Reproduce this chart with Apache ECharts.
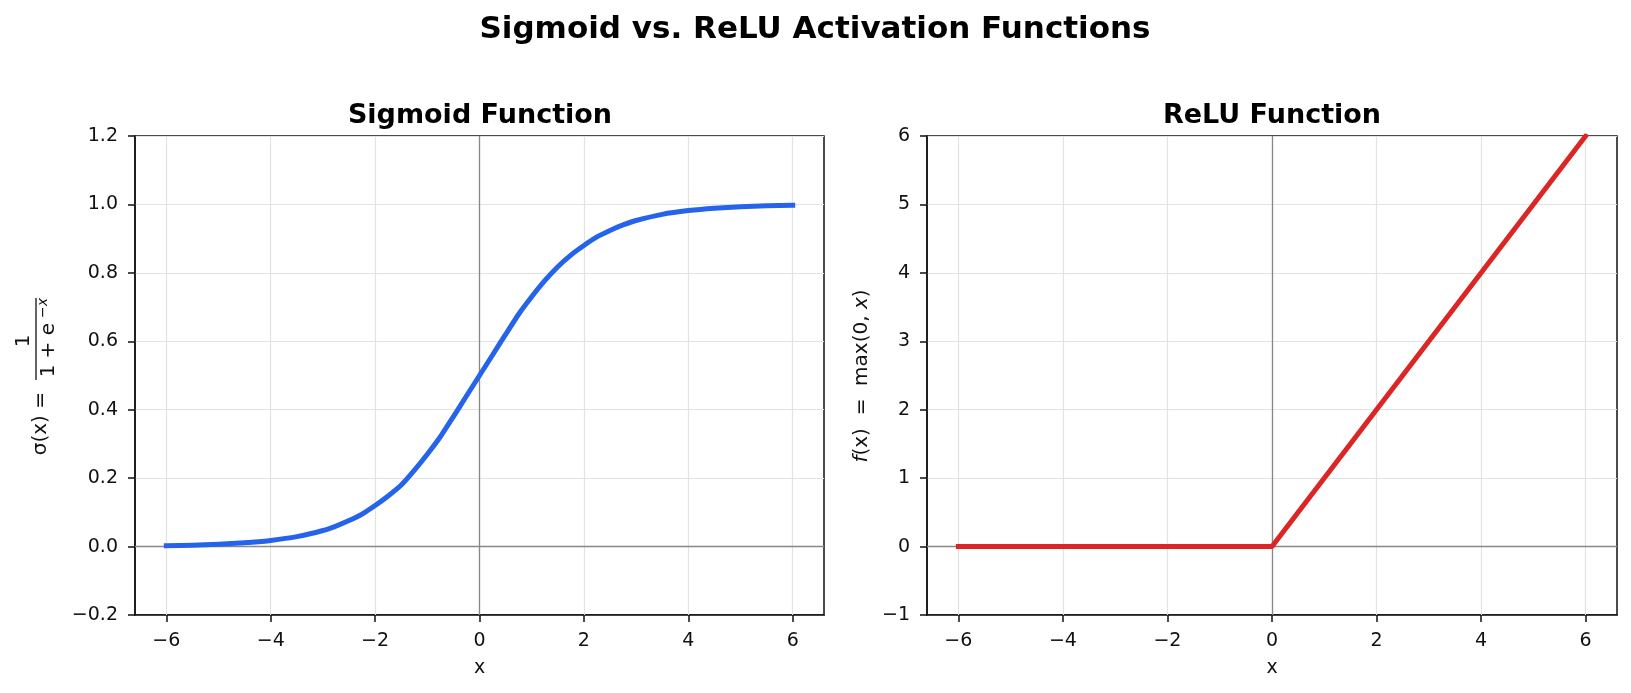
<!DOCTYPE html>
<html>
<head>
<meta charset="utf-8">
<title>Sigmoid vs. ReLU Activation Functions</title>
<script src="https://cdn.jsdelivr.net/npm/echarts@6/dist/echarts.min.js"></script>
<style>
html, body { margin: 0; padding: 0; background: #fff; }
#chart { width: 1631px; height: 693px; }
</style>
</head>
<body>
<div id="chart"></div>
<script>
// values
var xTicks = [-6, -4, -2, 0, 2, 4, 6];
var sigmoidX = [-6, -5.5, -5, -4.5, -4, -3.5, -3, -2.75, -2.5, -2.25, -2, -1.75, -1.5, -1.25, -1, -0.75, -0.5, -0.25,
	0, 0.25, 0.5, 0.75, 1, 1.25, 1.5, 1.75, 2, 2.25, 2.5, 2.75, 3, 3.5, 4, 4.5, 5, 5.5, 6];
var sigmoidY = [0.0025, 0.004, 0.007, 0.011, 0.018, 0.029, 0.047, 0.06, 0.076, 0.095, 0.12, 0.148, 0.18, 0.223, 0.27, 0.321, 0.38, 0.44,
	0.5, 0.56, 0.62, 0.679, 0.73, 0.777, 0.818, 0.852, 0.88, 0.905, 0.924, 0.94, 0.953, 0.971, 0.982, 0.989, 0.993, 0.996, 0.9975];
var reluX = [-6, 0, 6];
var reluY = [0, 0, 6];
var sigmoidYTicks = { min: -0.2, max: 1.2, step: 0.2 };
var reluYTicks = { min: -1, max: 6, step: 1 };

var FONT = 'DejaVu Sans';
var INK = '#111';

function minus(s) {
	return String(s).replace('-', '\u2212');
}

function pairs(xs, ys) {
	return xs.map(function (x, i) { return [x, ys[i]]; });
}

function xAxisOf(idx) {
	return {
		gridIndex: idx,
		type: 'value',
		min: -6.6,
		max: 6.6,
		axisLine: { onZero: false, lineStyle: { color: INK, width: 1.5 } },
		axisTick: { customValues: xTicks, length: 7, lineStyle: { color: INK, width: 1.5 } },
		axisLabel: {
			customValues: xTicks,
			margin: 17,
			fontSize: 19,
			fontFamily: FONT,
			color: INK,
			formatter: function (v) { return minus(v); }
		},
		splitLine: { show: false },
		name: 'x',
		nameLocation: 'middle',
		nameGap: 44,
		nameTextStyle: { fontSize: 19, fontFamily: FONT, color: INK }
	};
}

function yAxisOf(idx, t, digits) {
	return {
		gridIndex: idx,
		type: 'value',
		min: t.min,
		max: t.max,
		interval: t.step,
		axisLine: { show: true, onZero: false, lineStyle: { color: INK, width: 1.5 } },
		axisTick: { show: true, length: 7, lineStyle: { color: INK, width: 1.5 } },
		axisLabel: {
			margin: 17,
			fontSize: 19,
			fontFamily: FONT,
			color: INK,
			formatter: function (v) { return minus(Number(v).toFixed(digits)); }
		},
		splitLine: { show: true, lineStyle: { color: '#e3e3e3', width: 1.2 } }
	};
}

// faint vertical grid lines and the grey zero lines
function guides(idx) {
	var data = xTicks.map(function (x) {
		return { xAxis: x, lineStyle: { color: '#e3e3e3', width: 1.2 } };
	});
	data.push({ xAxis: 0, lineStyle: { color: '#888', width: 1.3 } });
	data.push({ yAxis: 0, lineStyle: { color: '#888', width: 1.3 } });
	return {
		type: 'line',
		xAxisIndex: idx,
		yAxisIndex: idx,
		data: [],
		z: 1,
		silent: true,
		markLine: {
			silent: true,
			symbol: 'none',
			label: { show: false },
			lineStyle: { type: 'solid' },
			animation: false,
			data: data
		}
	};
}

var chart = echarts.init(document.getElementById('chart'));

var option = {
	animation: false,
	backgroundColor: '#fff',
	grid: [
		{ left: 135, top: 136, width: 689, height: 479, show: true, borderColor: INK, borderWidth: 1.5 },
		{ left: 927, top: 136, width: 690, height: 479, show: true, borderColor: INK, borderWidth: 1.5 }
	],
	xAxis: [xAxisOf(0), xAxisOf(1)],
	yAxis: [yAxisOf(0, sigmoidYTicks, 1), yAxisOf(1, reluYTicks, 0)],
	series: [
		guides(0),
		guides(1),
		{
			type: 'line',
			name: 'Sigmoid',
			xAxisIndex: 0,
			yAxisIndex: 0,
			data: pairs(sigmoidX, sigmoidY),
			smooth: 0.15,
			showSymbol: false,
			z: 5,
			lineStyle: { color: '#2563eb', width: 5, cap: 'square', join: 'round' }
		},
		{
			type: 'line',
			name: 'ReLU',
			xAxisIndex: 1,
			yAxisIndex: 1,
			data: pairs(reluX, reluY),
			showSymbol: false,
			z: 5,
			lineStyle: { color: '#dc2626', width: 5, cap: 'square' }
		}
	],
	graphic: [
		{
			type: 'text', x: 815, y: 30,
			style: { text: 'Sigmoid vs. ReLU Activation Functions', fontSize: 31, fontWeight: 'bold', fontFamily: FONT, fill: '#000', align: 'center', verticalAlign: 'middle' }
		},
		{
			type: 'text', x: 480, y: 116,
			style: { text: 'Sigmoid Function', fontSize: 27, fontWeight: 'bold', fontFamily: FONT, fill: '#000', align: 'center', verticalAlign: 'middle' }
		},
		{
			type: 'text', x: 1272, y: 116,
			style: { text: 'ReLU Function', fontSize: 27, fontWeight: 'bold', fontFamily: FONT, fill: '#000', align: 'center', verticalAlign: 'middle' }
		},
		// left y label: sigma(x) = 1 / (1 + e^-x), turned to read upwards
		{
			type: 'group', x: 36, y: 374, rotation: Math.PI / 2,
			children: [
				{ type: 'text', x: -18, y: 5, style: { text: '\u03c3(x) =', fontSize: 20, fontFamily: FONT, fill: INK, align: 'right', verticalAlign: 'middle' } },
				{ type: 'line', shape: { x1: -6, y1: 0, x2: 76, y2: 0 }, style: { stroke: INK, lineWidth: 1.3 } },
				{ type: 'text', x: 33, y: -12, style: { text: '1', fontSize: 20, fontFamily: FONT, fill: INK, align: 'center', verticalAlign: 'middle' } },
				{ type: 'text', x: 3, y: 13, style: { text: '1', fontSize: 20, fontFamily: FONT, fill: INK, align: 'center', verticalAlign: 'middle' } },
				{ type: 'text', x: 24, y: 13, style: { text: '+', fontSize: 20, fontFamily: FONT, fill: INK, align: 'center', verticalAlign: 'middle' } },
				{ type: 'text', x: 45, y: 13, style: { text: 'e', fontSize: 20, fontFamily: FONT, fill: INK, align: 'center', verticalAlign: 'middle' } },
				{ type: 'text', x: 66, y: 7, style: { text: '\u2212x', fontSize: 14, fontStyle: 'italic', fontFamily: FONT, fill: INK, align: 'center', verticalAlign: 'middle' } }
			]
		},
		{
			type: 'text', x: 862, y: 376, rotation: Math.PI / 2,
			style: {
				text: '{i|f}(x)  =  max(0, {i|x})',
				fontSize: 20, fontFamily: FONT, fill: INK, align: 'center', verticalAlign: 'middle',
				rich: { i: { fontStyle: 'italic', fontSize: 20, fontFamily: FONT, fill: INK } }
			}
		}
	]
};

chart.setOption(option);
window.addEventListener('resize', function () { chart.resize(); });
</script>
</body>
</html>
